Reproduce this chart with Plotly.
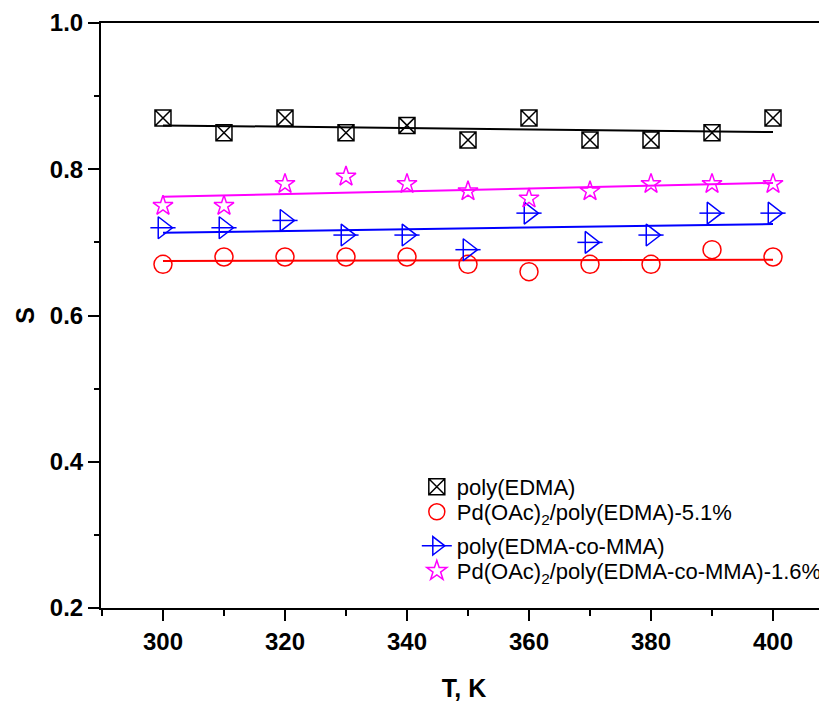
import numpy as np
import plotly.graph_objects as go

T = [300, 310, 320, 330, 340, 350, 360, 370, 380, 390, 400]
s_edma = [0.87, 0.85, 0.87, 0.85, 0.86, 0.84, 0.87, 0.84, 0.84, 0.85, 0.87]
s_pd_edma = [0.67, 0.68, 0.68, 0.68, 0.68, 0.67, 0.66, 0.67, 0.67, 0.69, 0.68]
s_co = [0.72, 0.72, 0.73, 0.71, 0.71, 0.69, 0.74, 0.70, 0.71, 0.74, 0.74]
s_pd_co = [0.75, 0.75, 0.78, 0.79, 0.78, 0.77, 0.76, 0.77, 0.78, 0.78, 0.78]

names = ["poly(EDMA)",
         "Pd(OAc)<sub>2</sub>/poly(EDMA)-5.1%",
         "poly(EDMA-co-MMA)",
         "Pd(OAc)<sub>2</sub>/poly(EDMA-co-MMA)-1.6%"]
x_ticks = [300, 320, 340, 360, 380, 400]
y_ticks = [0.2, 0.4, 0.6, 0.8, 1.0]

fig = go.Figure()

series = [
    (s_edma, names[0], "black", "square-x-open", 16, "legend"),
    (s_pd_edma, names[1], "red", "circle-open", 18, "legend2"),
    (s_co, names[2], "blue", "triangle-right-open", 19, "legend3"),
    (s_pd_co, names[3], "magenta", "star-open", 15, "legend4"),
]

xfit = np.array([T[0], T[-1]])
for ys, name, color, sym, size, lg in series:
    k, b = np.polyfit(T, ys, 1)
    fig.add_trace(go.Scatter(x=xfit, y=k * xfit + b, mode="lines",
                             line=dict(color=color, width=2),
                             showlegend=False, hoverinfo="skip"))

for ys, name, color, sym, size, lg in series:
    mk = dict(symbol=sym, size=size, color=color, line=dict(color=color, width=1.5))
    if sym == "triangle-right-open":
        fig.add_trace(go.Scatter(x=T, y=ys, mode="markers", showlegend=False,
                                 marker=dict(symbol="line-ew-open", size=18, color=color,
                                             line=dict(color=color, width=1.5))))
        fig.add_trace(go.Scatter(x=T, y=ys, mode="markers", showlegend=False, marker=mk))
        fig.add_trace(go.Scatter(x=[None], y=[None], mode="lines+markers", name=name,
                                 legend=lg, line=dict(color=color, width=1.5), marker=mk))
    else:
        fig.add_trace(go.Scatter(x=T, y=ys, mode="markers", name=name, legend=lg, marker=mk))

leg_common = dict(x=0.435, xanchor="left", yanchor="middle",
                  bgcolor="rgba(0,0,0,0)", borderwidth=0,
                  font=dict(size=22, family="Liberation Sans", color="black"),
                  itemsizing="trace")

fig.update_layout(
    width=819, height=694,
    margin=dict(l=93, r=0, t=15, b=94),
    plot_bgcolor="white", paper_bgcolor="white",
    font=dict(family="Liberation Sans", color="black"),
    showlegend=True,
    legend=dict(y=0.2068, **leg_common),
    legend2=dict(y=0.1641, **leg_common),
    legend3=dict(y=0.106, **leg_common),
    legend4=dict(y=0.0632, **leg_common),
)
fig.update_xaxes(
    range=[289.84, 408.85], tickvals=x_ticks, ticktext=[str(v) for v in x_ticks],
    showgrid=False, zeroline=False, showline=True, linecolor="black", linewidth=2,
    mirror=True, ticks="outside", ticklen=11, tickwidth=2, tickcolor="black",
    minor=dict(dtick=10, tick0=290, ticks="outside", ticklen=6, tickwidth=1.5, tickcolor="black"),
    tickfont=dict(size=24, family="Liberation Sans", weight="bold"),
    title=dict(text="<b>T, K</b>", font=dict(size=25, family="Liberation Sans"), standoff=26),
)
fig.update_yaxes(
    range=[0.2, 1.0], tickvals=y_ticks, ticktext=["%.1f" % v for v in y_ticks],
    showgrid=False, zeroline=False, showline=True, linecolor="black", linewidth=2,
    ticks="outside", ticklen=11, tickwidth=2, tickcolor="black",
    minor=dict(dtick=0.1, tick0=0.2, ticks="outside", ticklen=5, tickwidth=1.5, tickcolor="black"),
    tickfont=dict(size=24, family="Liberation Sans", weight="bold"),
    title=dict(text="<b>S</b>", font=dict(size=25, family="Liberation Sans"), standoff=8),
)

fig.write_html("out.html")
